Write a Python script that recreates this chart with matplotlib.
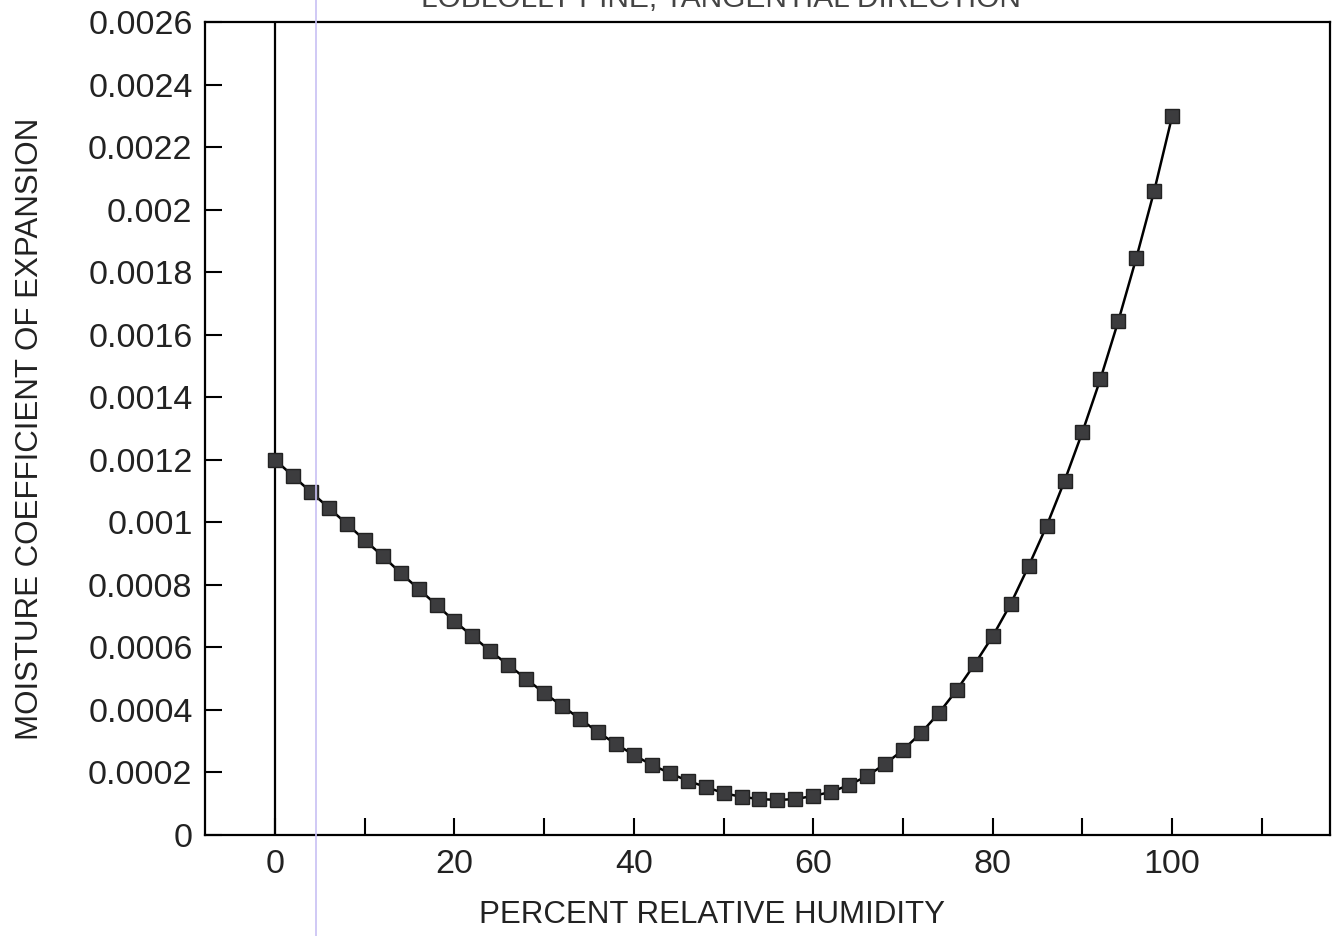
import matplotlib
matplotlib.use("Agg")
import matplotlib.pyplot as plt
from matplotlib.lines import Line2D
from matplotlib.ticker import FormatStrFormatter, MultipleLocator

plt.rcParams['font.family'] = ['Liberation Sans', 'DejaVu Sans']

# percent relative humidity, every 2%
rh = list(range(0, 101, 2))
# moisture coefficient of expansion
coef = [0.00120, 0.001148, 0.001097, 0.001046, 0.000995, 0.000943, 0.000892, 0.000838,
        0.000787, 0.000736, 0.000684, 0.000636, 0.000588, 0.000544, 0.000499, 0.000454,
        0.000413, 0.000371, 0.000329, 0.000291, 0.000256, 0.000224, 0.000198, 0.000173,
        0.000154, 0.000134, 0.000122, 0.000115, 0.000112, 0.000115, 0.000125, 0.000138,
        0.000160, 0.000189, 0.000227, 0.000272, 0.000326, 0.000390, 0.000464, 0.000547,
        0.000636, 0.000739, 0.000860, 0.000988, 0.001132, 0.001289, 0.001458, 0.001644,
        0.001845, 0.002060, 0.002299]

x_labels = [0, 20, 40, 60, 80, 100]

fig = plt.figure(figsize=(13.35, 9.36), dpi=100)
ax = fig.add_axes([0.1536, 0.1079, 0.8427, 0.8686])

ax.axvline(0, color='black', lw=1.6, zorder=1)
ax.plot(rh, coef, color='black', lw=1.8, marker='s', markersize=10.5,
        markerfacecolor='#3c3c3e', markeredgecolor='#222222', markeredgewidth=1, zorder=3)

ax.set_xlim(-7.8, 117.6)
ax.set_ylim(0, 0.0026)
ax.set_xticks(x_labels)
ax.xaxis.set_minor_locator(MultipleLocator(10))
ax.yaxis.set_major_locator(MultipleLocator(0.0002))
ax.yaxis.set_major_formatter(FormatStrFormatter('%g'))

ax.tick_params(axis='x', which='both', direction='in', length=12, width=1.5,
               labelsize=24.5, pad=10, top=False, labelcolor='#222222')
ax.tick_params(axis='y', direction='in', length=12, width=1.5, labelsize=24.5,
               pad=9, right=False, labelcolor='#222222')
for s in ax.spines.values():
    s.set_linewidth(1.6)

ax.set_xlabel('PERCENT RELATIVE HUMIDITY', fontsize=22.5, color='#222222')
ax.xaxis.set_label_coords(0.451, -0.08)
ax.set_ylabel('MOISTURE COEFFICIENT OF EXPANSION', fontsize=22.5, labelpad=31, color='#222222')

# title cut off at the top of the scan
fig.text(0.54, 0.9925, 'LOBLOLLY PINE, TANGENTIAL DIRECTION', fontsize=21.5,
         ha='center', va='baseline', color='#444444')

# faint scanner line
fig.add_artist(Line2D([316 / 1335, 316 / 1335], [0, 1], transform=fig.transFigure,
                      color='#c8c0f4', lw=1.2))

fig.savefig('out.png', dpi=100)
